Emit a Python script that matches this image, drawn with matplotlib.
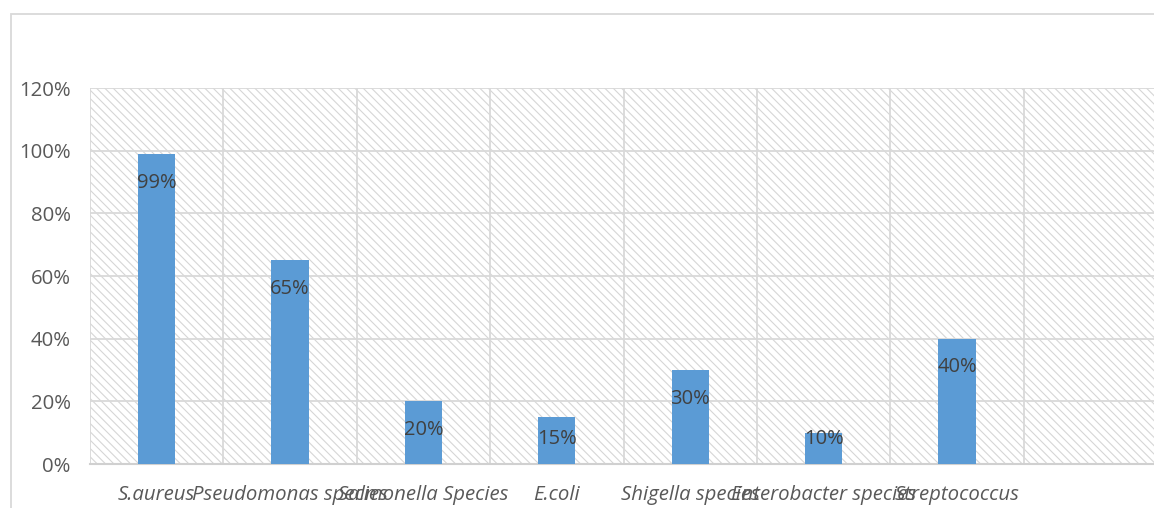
import matplotlib
matplotlib.use("Agg")
import matplotlib.pyplot as plt
from matplotlib.patches import Rectangle
from matplotlib.ticker import MultipleLocator, FuncFormatter
import numpy as np

categories = ["S.aureus", "Pseudomonas species", "Salmonella Species", "E.coli",
              "Shigella species", "Enterobacter species", "Streptococcus"]
values = [99, 65, 20, 15, 30, 10, 40]  # percent
n_slots = 8  # one empty category slot at the right

plt.rcParams['font.family'] = ['Open Sans', 'DejaVu Sans']
plt.rcParams['hatch.linewidth'] = 0.8

fig = plt.figure(figsize=(11.54, 5.08), dpi=100)
# outer chart frame
fig.patches.append(Rectangle((11/1154, -0.1), 1.2, 1 - 14/508 + 0.1, transform=fig.transFigure,
                             fill=False, edgecolor='#d9d9d9', linewidth=1.3))

ax = fig.add_axes([90/1154, 1 - 464/508, (1157 - 90)/1154, (464 - 88)/508])
ax.set_xlim(-0.5, n_slots - 0.5)
ax.set_ylim(0, 120)

# hatched plot background
ax.add_patch(Rectangle((0, 0), 1, 1, transform=ax.transAxes, facecolor='white',
                       edgecolor='#d6d6d6', linewidth=0, hatch='\\\\\\\\', zorder=0.1))

x = np.arange(len(categories))
ax.bar(x, values, width=0.28, color='#5b9bd5', zorder=3)

for xi, v in zip(x, values):
    ly = max(v - 9.2, 8.1)
    ax.text(xi, ly, f"{v}%", ha='center', va='center', fontsize=14.5, color='#404040', zorder=4)

ax.yaxis.set_major_locator(MultipleLocator(20))
ax.yaxis.set_major_formatter(FuncFormatter(lambda v, p: f"{int(v)}%"))
ax.set_xticks(x)
ax.set_xticklabels(categories, fontstyle='italic')
ax.set_xticks(np.arange(-0.5, n_slots, 1.0), minor=True)
ax.tick_params(axis='x', which='both', length=0, pad=15, labelsize=14.7, labelcolor='#595959')
ax.tick_params(axis='y', length=0, pad=14, labelsize=14.7, labelcolor='#595959')

ax.set_axisbelow(True)
ax.grid(True, axis='y', which='major', color='#d9d9d9', linewidth=1.3)
ax.grid(True, axis='x', which='minor', color='#d9d9d9', linewidth=1.3)
ax.grid(False, axis='x', which='major')

for s in ['top', 'right', 'left']:
    ax.spines[s].set_visible(False)
ax.spines['bottom'].set_color('#d0d0d0')
ax.spines['bottom'].set_linewidth(1.5)

fig.savefig('out.png', dpi=100)
